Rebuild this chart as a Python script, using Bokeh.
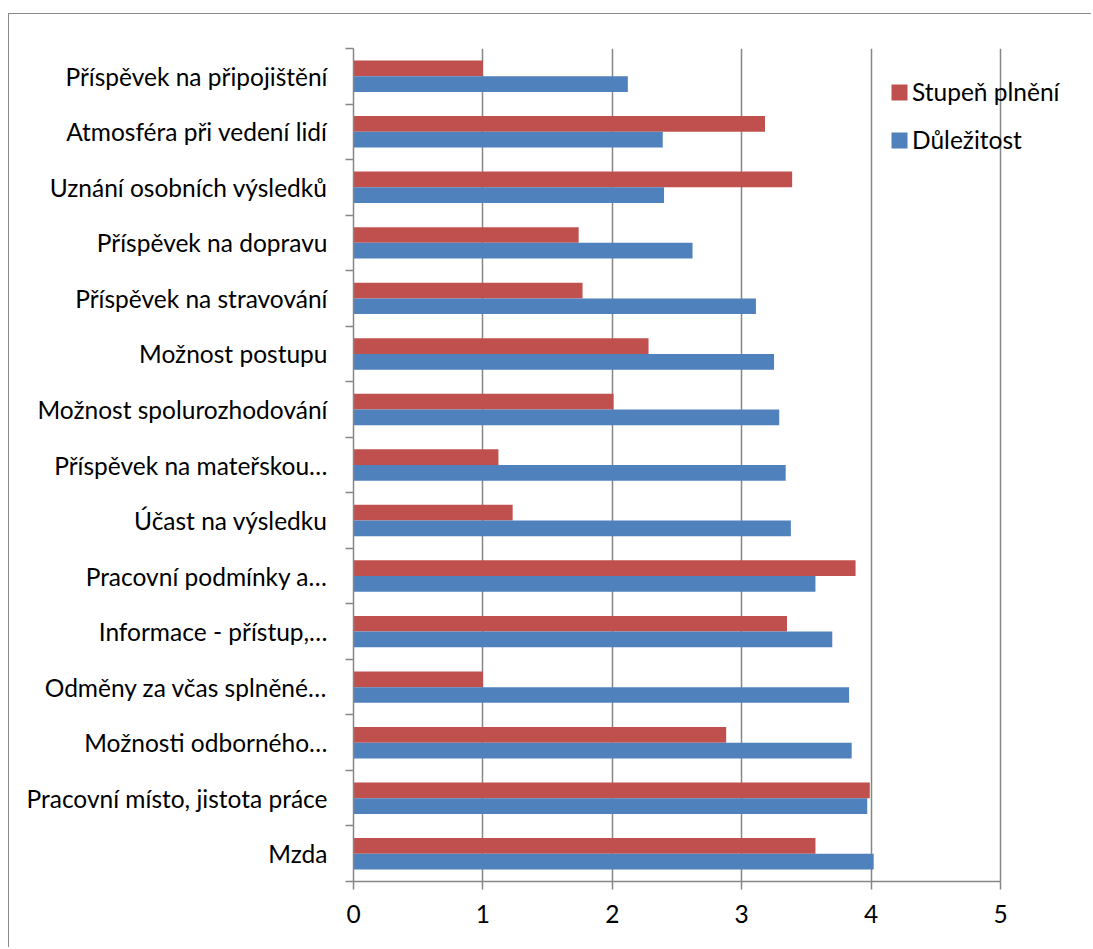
from bokeh.plotting import figure
from bokeh.models import FixedTicker, Legend, LegendItem, ColumnDataSource
from bokeh.embed import file_html
from bokeh.resources import INLINE

# ---- data (bottom to top, as drawn) ----
categories = [
    "Mzda",
    "Pracovní místo, jistota práce",
    "Možnosti odborného…",
    "Odměny za včas splněné…",
    "Informace - přístup,…",
    "Pracovní podmínky a…",
    "Účast na výsledku",
    "Příspěvek na mateřskou…",
    "Možnost spolurozhodování",
    "Možnost postupu",
    "Příspěvek na stravování",
    "Příspěvek na dopravu",
    "Uznání osobních výsledků",
    "Atmosféra při vedení lidí",
    "Příspěvek na připojištění",
]
dulezitost = [4.02, 3.97, 3.85, 3.83, 3.70, 3.57, 3.38, 3.34, 3.29, 3.25, 3.11, 2.62, 2.40, 2.39, 2.12]
stupen_plneni = [3.57, 3.99, 2.88, 1.00, 3.35, 3.88, 1.23, 1.12, 2.01, 2.28, 1.77, 1.74, 3.39, 3.18, 1.00]
series_names = ["Stupeň plnění", "Důležitost"]
x_ticks = [0, 1, 2, 3, 4, 5]

# ---- style ----
RED = "#C0504D"
BLUE = "#4F81BD"
GRAY = "#868686"
FONT = "Lato"
FS = "24.5px"
BAR_H = 0.283
OFF = BAR_H / 2
X_VIEW_END = 5.711   # frame extends right of the last gridline (room for legend)

n = len(categories)
pos = [i + 1 for i in range(n)]
src = ColumnDataSource(dict(
    y_red=[p + OFF for p in pos],
    y_blue=[p - OFF for p in pos],
    ful=stupen_plneni,
    imp=dulezitost,
))

p = figure(width=1083, height=934, x_range=(0, X_VIEW_END), y_range=(0.5, n + 0.5),
           output_backend="svg", toolbar_location=None,
           min_border_left=344, min_border_right=0, min_border_top=34, min_border_bottom=67)
p.styles = {"border-top": "1px solid #8a8a8a", "border-left": "1px solid #8a8a8a",
            "margin-top": "13px", "margin-left": "8px"}
p.outline_line_color = None
p.background_fill_color = "white"
p.border_fill_color = "white"

r_red = p.hbar(y="y_red", left=0, right="ful", height=BAR_H, color=RED, line_color=None, source=src)
r_blue = p.hbar(y="y_blue", left=0, right="imp", height=BAR_H, color=BLUE, line_color=None, source=src)

# y axis: labels at centers, ticks at category boundaries (minor ticks)
ya = p.yaxis[0]
ya.ticker = FixedTicker(ticks=pos, minor_ticks=[k + 0.5 for k in range(n + 1)])
ya.major_label_overrides = {pp: c for pp, c in zip(pos, categories)}
ya.major_tick_out = 0
ya.major_tick_in = 0
ya.minor_tick_out = 8
ya.minor_tick_in = 0
ya.minor_tick_line_color = GRAY
ya.minor_tick_line_width = 1.5
ya.axis_line_color = GRAY
ya.axis_line_width = 1.5
ya.major_label_standoff = 18
ya.major_label_text_font = FONT
ya.major_label_text_font_size = FS
ya.major_label_text_color = "black"

xa = p.xaxis[0]
xa.ticker = FixedTicker(ticks=x_ticks, minor_ticks=[])
xa.bounds = (x_ticks[0], x_ticks[-1])
xa.major_tick_out = 8
xa.major_tick_in = 0
xa.major_tick_line_color = GRAY
xa.major_tick_line_width = 1.5
xa.axis_line_color = GRAY
xa.axis_line_width = 1.5
xa.major_label_standoff = 15
xa.major_label_text_font = FONT
xa.major_label_text_font_size = FS
xa.major_label_text_color = "black"

p.ygrid.visible = False
p.xgrid.grid_line_color = GRAY
p.xgrid.grid_line_width = 1.5

legend = Legend(items=[LegendItem(label=series_names[0], renderers=[r_red]),
                       LegendItem(label=series_names[1], renderers=[r_blue])],
                location=(536, 727), padding=0, margin=0, spacing=19,
                glyph_width=20, glyph_height=20, label_height=16, label_standoff=3,
                label_text_font=FONT, label_text_font_size=FS, label_text_color="black",
                border_line_color=None, background_fill_alpha=0)
p.add_layout(legend)

open("out.html", "w").write(file_html(p, INLINE))
